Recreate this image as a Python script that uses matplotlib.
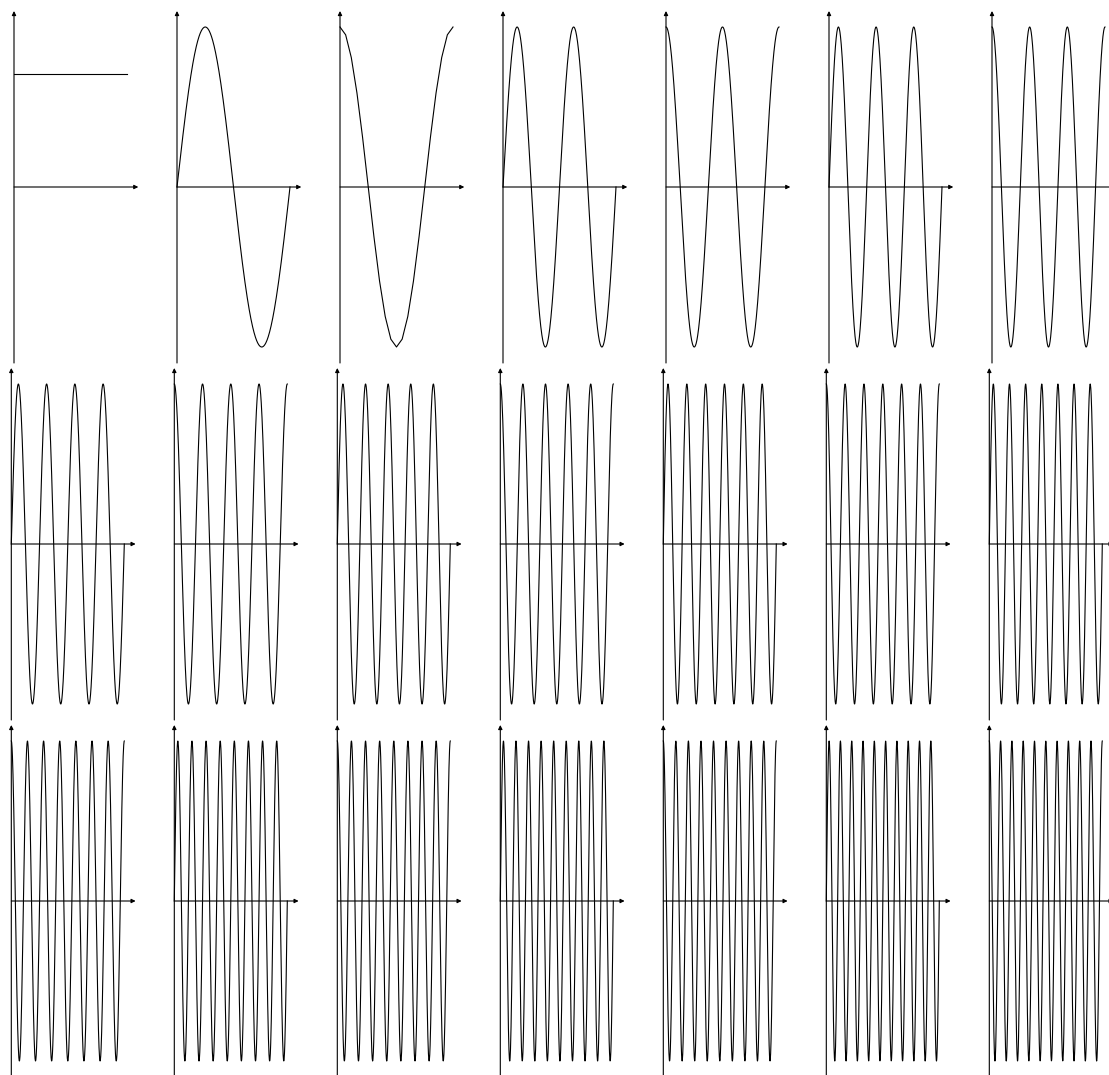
import numpy as np
import matplotlib
matplotlib.use('Agg')
import matplotlib.pyplot as plt

# Fourier basis functions shown in the grid (kind, frequency, number of samples)
kinds = ['const'] + [k for n in range(1, 11) for k in ('sin', 'cos')]
freqs = [0] + [n for n in range(1, 11) for _ in (0, 1)]
samples = [2, 400, 21] + [600] * 18
const_level = 1 / np.sqrt(2)

W, H = 1109, 1075
fig = plt.figure(figsize=(W / 100, H / 100), dpi=100)
fig.patch.set_facecolor('white')

ncols = 7
pw, ph = 113.0, 320.0
row_cy = [187, 544, 901]
row_x0 = [14, 11.3, 11.3]
col_step = 163

for i, (kind, k, ns) in enumerate(zip(kinds, freqs, samples)):
    r, c = divmod(i, ncols)
    x0 = row_x0[r] + c * col_step
    cy = row_cy[r]
    ax = fig.add_axes([x0 / W, (H - (cy + ph / 2)) / H, pw / W, ph / H])
    ax.set_xlim(0, 2 * np.pi)
    ax.set_ylim(-1, 1)
    ax.axis('off')
    x = np.linspace(0, 2 * np.pi, ns)
    if kind == 'const':
        y = np.full_like(x, const_level)
    elif kind == 'sin':
        y = np.sin(k * x)
    else:
        y = np.cos(k * x)
    ax.plot(x, y, color='black', lw=0.8, clip_on=False, zorder=3)
    ap = dict(arrowstyle='-|>', lw=0.8, color='black', mutation_scale=6,
              shrinkA=0, shrinkB=0)
    ax.annotate('', xy=(1.1 * 2 * np.pi, 0), xytext=(0, 0), arrowprops=ap,
                annotation_clip=False)
    ax.annotate('', xy=(0, 1.1), xytext=(0, -1.1), arrowprops=ap,
                annotation_clip=False)

fig.savefig('out.png', dpi=100, facecolor='white')
